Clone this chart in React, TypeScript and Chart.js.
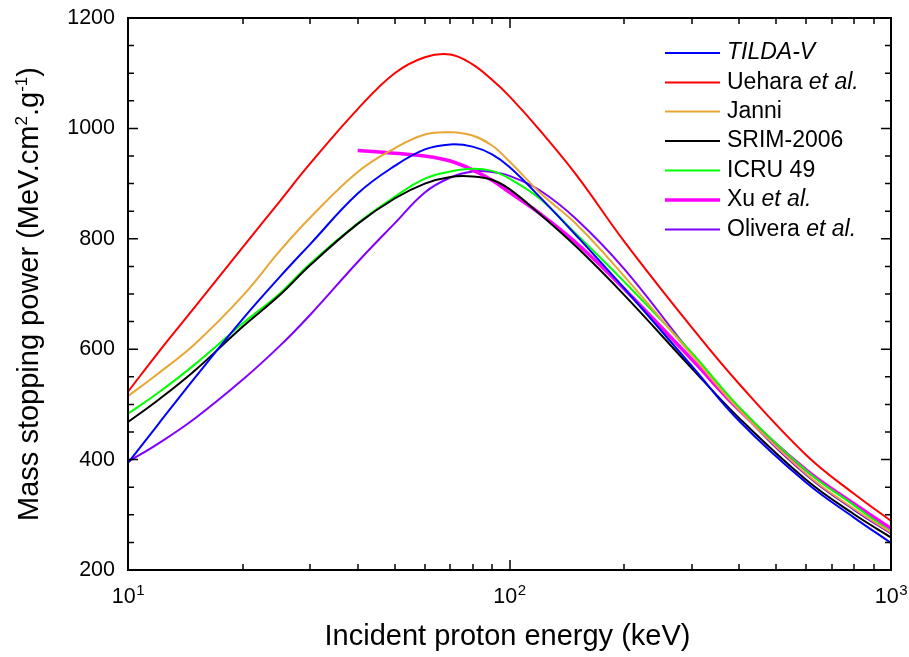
import React, { useEffect, useRef } from "react";
import { Chart, registerables } from "chart.js";
Chart.register(...registerables);

// ---- data ----
const energies = [10, 12, 15, 20, 25, 30, 40, 50, 60, 70, 80, 90, 100, 120, 150, 200, 300, 400, 600, 800, 1000];
const xuEnergies = [40, 50, 60, 70, 80, 90, 100, 120, 150, 200, 300, 400, 600, 800, 1000];

const tildaV = [394, 464, 549, 655, 731, 790, 882, 932, 962, 971, 967, 953, 930, 876, 805, 710, 570, 470, 358, 295, 249];
const uehara = [523, 594, 677, 785, 868, 936, 1035, 1100, 1129, 1134, 1116, 1088, 1058, 997, 915, 795, 640, 537, 408, 338, 289];
const janni = [515, 556, 610, 697, 778, 838, 921, 964, 989, 993, 987, 969, 940, 884, 826, 732, 590, 490, 374, 311, 268];
const srim2006 = [468, 508, 562, 641, 698, 752, 827, 873, 900, 912, 913, 907, 890, 845, 785, 698, 566, 475, 363, 301, 259];
const icru49 = [483, 521, 573, 647, 701, 755, 828, 876, 909, 922, 927, 923, 909, 873, 808, 722, 594, 495, 380, 317, 269];
const xu = [960, 955, 950, 941, 925, 906, 884, 846, 792, 709, 582, 490, 381, 320, 275];
const olivera = [396, 429, 475, 545, 606, 662, 758, 828, 884, 911, 922, 921, 914, 888, 835, 745, 592, 490, 372, 309, 266];

const seriesLabels = ["TILDA-V", "Uehara et al.", "Janni", "SRIM-2006", "ICRU 49", "Xu et al.", "Olivera et al."];
// legend text pieces: [text, italic]
const legendParts: [string, boolean][][] = [
  [["TILDA-V", true]],
  [["Uehara ", false], ["et al.", true]],
  [["Janni", false]],
  [["SRIM-2006", false]],
  [["ICRU 49", false]],
  [["Xu ", false], ["et al.", true]],
  [["Olivera ", false], ["et al.", true]],
];
const seriesColors = ["#0000FF", "#FF0000", "#E8A735", "#000000", "#00FF00", "#FF00FF", "#8000FF"];
const seriesWidths = [2, 2, 2, 2, 2, 3.5, 2];

const xMajor = [10, 100, 1000];
const xMajorExp = ["1", "2", "3"];
const yMin = 200;
const yMax = 1200;
const yMajorStep = 200;
const yMinorStep = 50;

const xTitle = "Incident proton energy (keV)";
// y title pieces: [text, superscript]
const yTitleParts: [string, boolean][] = [
  ["Mass stopping power (MeV.cm", false],
  ["2", true],
  [".g", false],
  ["-1", true],
  [")", false],
];

const FAMILY = '"Liberation Sans", Arial, Helvetica, sans-serif';

function pts(xs: number[], ys: number[]) {
  return xs.map((x, i) => ({ x, y: ys[i] }));
}

const decorPlugin = {
  id: "decor",
  afterDatasetsDraw(chart: any) {
    const { ctx, chartArea: a, scales } = chart;
    const xs = scales.x;
    const ys = scales.y;
    ctx.save();
    ctx.strokeStyle = "#000";
    ctx.fillStyle = "#000";

    // frame
    ctx.lineWidth = 2;
    ctx.strokeRect(a.left, a.top, a.right - a.left, a.bottom - a.top);

    // x ticks (inward, both bottom and top)
    ctx.lineWidth = 1.5;
    const majorLen = 10;
    const minorLen = 6;
    for (let d = 0; d < xMajor.length; d++) {
      for (let m = 1; m <= 9; m++) {
        const v = xMajor[d] * m;
        if (v > xMajor[xMajor.length - 1]) break;
        const px = Math.round(xs.getPixelForValue(v));
        const len = m === 1 ? majorLen : minorLen;
        ctx.beginPath();
        ctx.moveTo(px, a.bottom);
        ctx.lineTo(px, a.bottom - len);
        ctx.moveTo(px, a.top);
        ctx.lineTo(px, a.top + len);
        ctx.stroke();
      }
    }
    // y ticks
    for (let v = yMin; v <= yMax; v += yMinorStep) {
      const py = ys.getPixelForValue(v);
      const len = v % yMajorStep === 0 ? majorLen : minorLen;
      ctx.beginPath();
      ctx.moveTo(a.left, py);
      ctx.lineTo(a.left + len, py);
      ctx.moveTo(a.right, py);
      ctx.lineTo(a.right - len, py);
      ctx.stroke();
    }

    // x tick labels 10^n
    ctx.textBaseline = "alphabetic";
    ctx.textAlign = "left";
    const baseFont = `21.5px ${FAMILY}`;
    const supFont = `15px ${FAMILY}`;
    xMajor.forEach((v, i) => {
      const px = xs.getPixelForValue(v);
      ctx.font = baseFont;
      const w1 = ctx.measureText("10").width;
      ctx.font = supFont;
      const w2 = ctx.measureText(xMajorExp[i]).width;
      const start = px - (w1 + w2) / 2;
      ctx.font = baseFont;
      ctx.fillText("10", start, 603);
      ctx.font = supFont;
      ctx.fillText(xMajorExp[i], start + w1 + 0.5, 595);
    });

    // x title
    ctx.font = `29px ${FAMILY}`;
    ctx.textAlign = "center";
    ctx.fillText(xTitle, (a.left + a.right) / 2 - 2, 645);

    // y title (rotated)
    ctx.save();
    ctx.translate(38, (a.top + a.bottom) / 2);
    ctx.rotate(-Math.PI / 2);
    ctx.textAlign = "left";
    const tf = `29px ${FAMILY}`;
    const sf = `17px ${FAMILY}`;
    let total = 0;
    yTitleParts.forEach(([t, sup]) => {
      ctx.font = sup ? sf : tf;
      total += ctx.measureText(t).width;
    });
    let cx = -total / 2;
    yTitleParts.forEach(([t, sup]) => {
      ctx.font = sup ? sf : tf;
      ctx.fillText(t, cx, sup ? -11 : 0);
      cx += ctx.measureText(t).width;
    });
    ctx.restore();

    // legend
    const rowY = [53, 82.5, 111.5, 141, 170.5, 200, 229.5];
    legendParts.forEach((parts, i) => {
      const y = rowY[i];
      ctx.strokeStyle = seriesColors[i];
      ctx.lineWidth = seriesWidths[i];
      ctx.beginPath();
      ctx.moveTo(665, y);
      ctx.lineTo(720, y);
      ctx.stroke();
      ctx.textBaseline = "middle";
      ctx.textAlign = "left";
      let tx = 727;
      parts.forEach(([t, it]) => {
        ctx.font = `${it ? "italic " : ""}23px ${FAMILY}`;
        ctx.fillStyle = "#000";
        ctx.fillText(t, tx, y);
        tx += ctx.measureText(t).width;
      });
    });

    ctx.restore();
  },
};

export default function App() {
  const ref = useRef<HTMLCanvasElement | null>(null);
  useEffect(() => {
    if (!ref.current) return;
    const seriesData = [
      pts(energies, tildaV),
      pts(energies, uehara),
      pts(energies, janni),
      pts(energies, srim2006),
      pts(energies, icru49),
      pts(xuEnergies, xu),
      pts(energies, olivera),
    ];
    const chart = new Chart(ref.current, {
      type: "line",
      data: {
        datasets: seriesData.map((d, i) => ({
          label: seriesLabels[i],
          data: d,
          borderColor: seriesColors[i],
          backgroundColor: seriesColors[i],
          borderWidth: seriesWidths[i],
          pointRadius: 0,
          fill: false,
          tension: 0.4,
        })),
      },
      options: {
        responsive: false,
        animation: false,
        devicePixelRatio: 1,
        layout: { padding: { left: 0, top: 18, right: 18, bottom: 0 } },
        plugins: {
          legend: { display: false },
          tooltip: { enabled: false },
        },
        scales: {
          x: {
            type: "logarithmic",
            min: 10,
            max: 1000,
            grid: { display: false, drawTicks: false },
            border: { display: false },
            ticks: { display: false },
            afterFit: (s: any) => {
              s.height = 87;
              s.paddingLeft = 0;
              s.paddingRight = 0;
            },
          },
          y: {
            type: "linear",
            min: yMin,
            max: yMax,
            grid: { display: false, drawTicks: false },
            border: { display: false },
            ticks: {
              stepSize: yMajorStep,
              padding: 13,
              color: "#000",
              font: { family: FAMILY, size: 21.5 },
              callback: (v: any) => String(v),
            },
            afterFit: (s: any) => {
              s.width = 128;
              s.paddingTop = 0;
              s.paddingBottom = 0;
            },
          },
        },
      },
      plugins: [decorPlugin],
    });
    return () => chart.destroy();
  }, []);
  return (
    <div style={{ position: "absolute", left: 0, top: 0, width: 909, height: 657, background: "#fff" }}>
      <canvas ref={ref} width={909} height={657} style={{ display: "block", width: 909, height: 657 }} />
    </div>
  );
}
